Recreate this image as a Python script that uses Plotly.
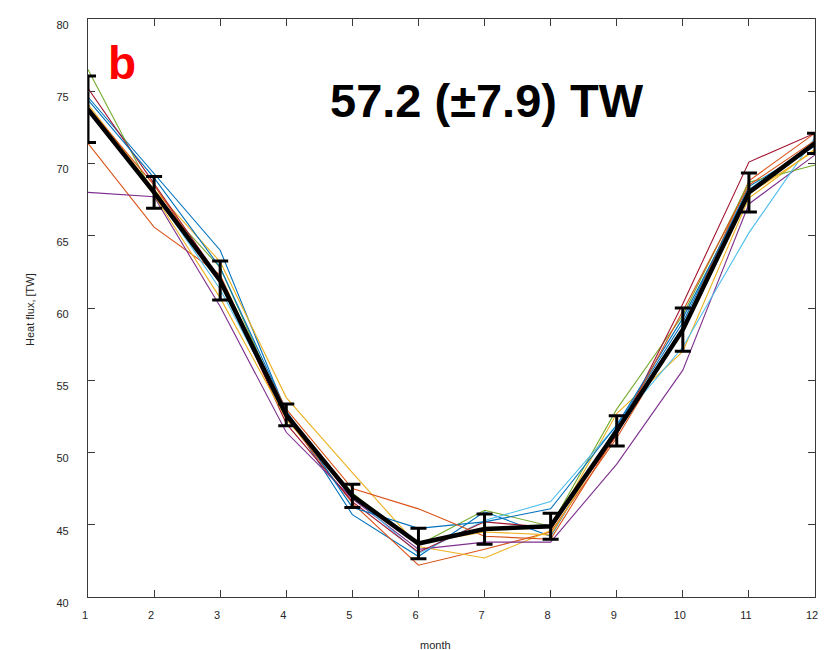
import plotly.graph_objects as go

# Monthly heat flux [TW] for the ensemble members
months = list(range(1, 13))

member_blue_a = [74.6, 69.3, 64.0, 52.8, 45.7, 42.8, 45.9, 44.2, 51.8, 59.0, 68.4, 71.2]
member_orange_a = [71.4, 65.6, 62.3, 52.4, 46.5, 42.2, 43.3, 44.5, 51.0, 58.6, 68.8, 72.1]
member_yellow_a = [74.1, 68.2, 63.2, 53.8, 48.6, 43.5, 42.7, 44.6, 52.7, 57.0, 67.6, 71.0]
member_purple = [68.0, 67.7, 60.1, 51.4, 46.8, 43.3, 43.8, 43.8, 49.2, 55.7, 67.2, 70.6]
member_green = [76.5, 67.8, 62.8, 52.5, 47.2, 43.6, 46.0, 44.9, 53.0, 59.5, 68.7, 69.9]
member_lightblue = [73.6, 68.0, 61.3, 52.6, 47.0, 43.0, 45.3, 46.6, 51.9, 57.3, 65.2, 71.8]
member_darkred = [75.2, 68.6, 62.0, 52.0, 46.6, 43.1, 45.2, 44.8, 51.2, 60.3, 70.1, 72.1]
member_blue_b = [74.4, 69.0, 62.8, 52.9, 46.2, 44.75, 45.2, 46.1, 51.9, 59.3, 68.2, 71.4]
member_orange_b = [73.9, 68.5, 61.8, 53.0, 47.5, 46.1, 44.2, 44.0, 51.3, 59.8, 68.5, 71.6]
member_yellow_b = [73.8, 67.8, 60.7, 52.3, 47.0, 43.7, 44.5, 44.3, 51.6, 58.3, 67.9, 70.9]

# Ensemble mean and spread
ens_mean = [73.75, 68.0, 61.9, 52.6, 47.0, 43.7, 44.7, 44.9, 51.5, 58.5, 68.0, 71.4]
ens_std = [2.3, 1.1, 1.35, 0.75, 0.8, 1.05, 1.05, 0.9, 1.05, 1.5, 1.35, 0.7]

members = [
    (member_blue_a, "#0072BD"),
    (member_orange_a, "#D95319"),
    (member_yellow_a, "#EDB120"),
    (member_purple, "#7E2F8E"),
    (member_green, "#77AC30"),
    (member_lightblue, "#4DBEEE"),
    (member_darkred, "#A2142F"),
    (member_blue_b, "#0072BD"),
    (member_orange_b, "#D95319"),
    (member_yellow_b, "#EDB120"),
]

fig = go.Figure()

for values, color in members:
    fig.add_trace(go.Scatter(
        x=months, y=values, mode="lines",
        line=dict(color=color, width=1.1),
        showlegend=False, hoverinfo="skip",
    ))

fig.add_trace(go.Scatter(
    x=months, y=ens_mean, mode="lines",
    line=dict(color="black", width=4.5),
    error_y=dict(type="data", array=ens_std, visible=True,
                 color="black", thickness=3, width=8),
    showlegend=False,
))

font_family = "Liberation Sans, Arial, sans-serif"
axis_color = "#3a3a3a"
label_color = "#262626"

fig.update_xaxes(
    range=[1, 12], tickmode="array", tickvals=months,
    ticks="inside", ticklen=7, tickwidth=1, tickcolor=axis_color,
    showline=True, linecolor=axis_color, linewidth=1.1, mirror="ticks",
    showgrid=False, zeroline=False,
    tickfont=dict(family=font_family, size=11, color=label_color),
    ticklabelstandoff=8, ticklabelshift=-3,
)
fig.update_yaxes(
    range=[40, 80], tickmode="array", tickvals=list(range(40, 81, 5)),
    ticks="inside", ticklen=7, tickwidth=1, tickcolor=axis_color,
    showline=True, linecolor=axis_color, linewidth=1.1, mirror="ticks",
    showgrid=False, zeroline=False,
    tickfont=dict(family=font_family, size=11, color=label_color),
    ticklabelstandoff=16, ticklabelshift=6,
)

fig.add_annotation(
    text="57.2 (±7.9) TW", xref="paper", yref="paper",
    x=(489 - 88) / 730, y=1 - (101 - 19) / 578,
    xanchor="center", yanchor="middle", showarrow=False,
    font=dict(family=font_family, size=47, color="black", weight="bold"),
)
fig.add_annotation(
    text="b", xref="paper", yref="paper",
    x=(122 - 88) / 730, y=1 - (63 - 19) / 578,
    xanchor="center", yanchor="middle", showarrow=False,
    font=dict(family=font_family, size=46, color="#FF0000", weight="bold"),
)
fig.add_annotation(
    text="month", xref="paper", yref="paper",
    x=(437 - 88) / 730, y=0, yshift=-48,
    xanchor="center", yanchor="middle", showarrow=False,
    font=dict(family=font_family, size=11, color=label_color),
)
fig.add_annotation(
    text="Heat flux, [TW]", xref="paper", yref="paper",
    x=0, xshift=-58, y=1 - (310 - 19) / 578, textangle=-90,
    xanchor="center", yanchor="middle", showarrow=False,
    font=dict(family=font_family, size=11, color=label_color),
)

fig.update_layout(
    width=829, height=650,
    margin=dict(l=88, r=11, t=19, b=53),
    paper_bgcolor="white", plot_bgcolor="white",
)

fig.write_html("out.html")
